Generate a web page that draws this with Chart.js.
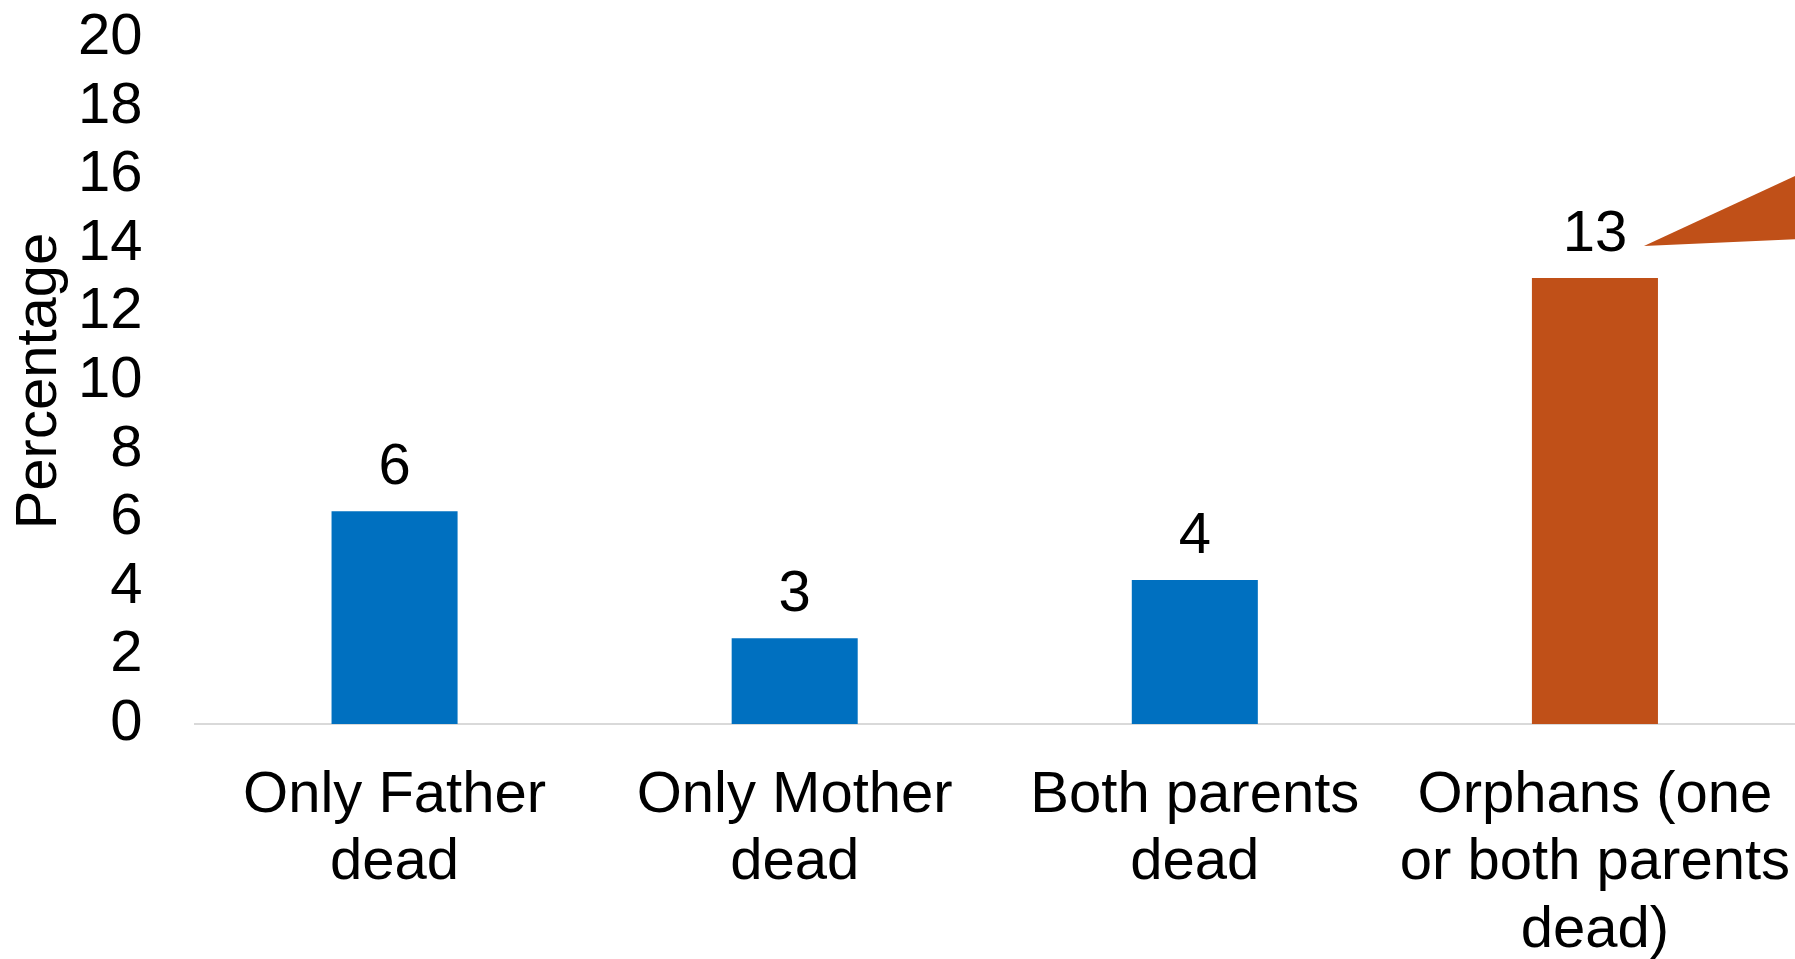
<!DOCTYPE html>
<html>
<head>
<meta charset="utf-8">
<script src="https://cdn.jsdelivr.net/npm/chart.js@4/dist/chart.umd.min.js"></script>
<style>
  html, body { margin: 0; padding: 0; background: #fff; }
  #wrap { width: 1795px; height: 959px; position: relative; }
</style>
</head>
<body>
<div id="wrap"><canvas id="myChart"></canvas></div>
<script>
const categories = [
    ['Only Father', 'dead'],
    ['Only Mother', 'dead'],
    ['Both parents', 'dead'],
    ['Orphans (one', 'or both parents', 'dead)']
];
const values = [6.2, 2.5, 4.2, 13];
const barColors = ['#0070C0', '#0070C0', '#0070C0', '#C05018'];
const yMin = 0;
const yMax = 20;
const yStep = 2;
const yTitle = 'Percentage';

const fontFamily = '"Liberation Sans", Arial, Helvetica, sans-serif';

// value labels above bars + the orange callout pointer on the right
const labelPlugin = {
    id: 'labels',
    afterDatasetsDraw: function (chart) {
        const ctx = chart.ctx;
        const meta = chart.getDatasetMeta(0);
        ctx.save();
        // callout pointer from last bar label
        const last = meta.data[meta.data.length - 1];
        const tipX = last.x + 49;
        const tipY = last.y - 32;
        ctx.fillStyle = barColors[barColors.length - 1];
        ctx.beginPath();
        ctx.moveTo(tipX, tipY);
        ctx.lineTo(chart.width + 2, last.y - 103);
        ctx.lineTo(chart.width + 2, last.y - 39);
        ctx.closePath();
        ctx.fill();

        ctx.fillStyle = '#000';
        ctx.font = '58px ' + fontFamily;
        ctx.textAlign = 'center';
        ctx.textBaseline = 'middle';
        meta.data.forEach(function (bar, i) {
            ctx.fillText(String(Math.round(values[i])), bar.x, bar.y - 43);
        });
        ctx.restore();
    }
};

const ctx = document.getElementById('myChart');

new Chart(ctx, {
    type: 'bar',
    data: {
        labels: categories,
        datasets: [{
            data: values,
            backgroundColor: barColors,
            borderWidth: 0,
            barPercentage: 0.315,
            categoryPercentage: 1
        }]
    },
    plugins: [labelPlugin],
    options: {
        responsive: true,
        maintainAspectRatio: false,
        animation: false,
        layout: { padding: 0 },
        plugins: {
            legend: { display: false },
            tooltip: { enabled: false }
        },
        scales: {
            x: {
                grid: { display: false, drawTicks: false },
                border: { display: true, color: '#D9D9D9', width: 2 },
                ticks: {
                    color: '#000',
                    font: { family: fontFamily, size: 58, lineHeight: 1.165 },
                    padding: 38,
                    maxRotation: 0,
                    autoSkip: false
                },
                afterFit: function (scale) {
                    // tick padding should not eat into the sides
                    scale.paddingLeft = 0;
                    scale.paddingRight = 0;
                    scale.height = 235;
                }
            },
            y: {
                min: yMin,
                max: yMax,
                grid: { display: false, drawTicks: false },
                border: { display: false },
                ticks: {
                    stepSize: yStep,
                    autoSkip: false,
                    color: '#000',
                    font: { family: fontFamily, size: 58 },
                    padding: 52
                },
                title: {
                    display: true,
                    text: yTitle,
                    color: '#000',
                    font: { family: fontFamily, size: 58, lineHeight: 1.2 },
                    padding: { top: 5, bottom: 6 }
                },
                afterFit: function (scale) {
                    scale.paddingTop = 38;
                    scale.paddingBottom = 0;
                    scale.width = 194.5;
                }
            }
        }
    }
});
</script>
</body>
</html>
